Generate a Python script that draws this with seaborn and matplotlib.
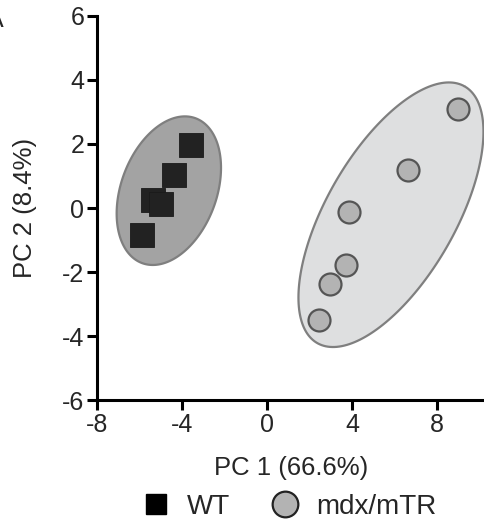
import numpy as np
import pandas as pd
import matplotlib
matplotlib.use("Agg")
import matplotlib.pyplot as plt
from matplotlib.lines import Line2D
import seaborn as sns

# PCA scores
wt_pc1 = [-3.58, -4.38, -5.36, -4.99, -5.88]
wt_pc2 = [1.96, 1.03, 0.25, 0.12, -0.84]
mdx_pc1 = [8.97, 6.61, 3.88, 3.73, 2.98, 2.47]
mdx_pc2 = [3.09, 1.17, -0.13, -1.79, -2.38, -3.49]

# ellipses: centre, major-axis vector, minor-axis vector (data units)
wt_ell_center = [-4.61, 0.54]
wt_ell_major = [1.25, 2.26]
wt_ell_minor = [-2.11, 0.51]
mdx_ell_center = [5.83, -0.21]
mdx_ell_major = [3.47, 4.0]
mdx_ell_minor = [-2.62, 1.01]

x_ticks = [-8, -4, 0, 4, 8]
y_ticks = [-6, -4, -2, 0, 2, 4, 6]

WT_COLOR = "#222222"
MDX_FILL = "#b3b3b3"
MDX_EDGE = "#555555"

sns.set_theme(style="ticks")
plt.rcParams["font.family"] = ["Liberation Sans", "DejaVu Sans"]

df = pd.DataFrame({
    "PC1": wt_pc1 + mdx_pc1,
    "PC2": wt_pc2 + mdx_pc2,
    "group": ["WT"] * len(wt_pc1) + ["mdx/mTR"] * len(mdx_pc1),
})


def ellipse_pts(c, u, v, n=200):
    t = np.linspace(0, 2 * np.pi, n)
    x = c[0] + u[0] * np.cos(t) + v[0] * np.sin(t)
    y = c[1] + u[1] * np.cos(t) + v[1] * np.sin(t)
    return x, y


fig = plt.figure(figsize=(4.85, 5.2), dpi=100)
ax = fig.add_axes([0.1994, 0.230, 0.8006, 0.740])

ex, ey = ellipse_pts(wt_ell_center, wt_ell_major, wt_ell_minor)
ax.fill(ex, ey, facecolor="#a3a3a3", edgecolor="#7f7f7f", lw=1.6, zorder=1)
ex, ey = ellipse_pts(mdx_ell_center, mdx_ell_major, mdx_ell_minor)
ax.fill(ex, ey, facecolor="#dedfe0", edgecolor="#7f7f7f", lw=1.6, zorder=1)

sns.scatterplot(data=df[df.group == "WT"], x="PC1", y="PC2", marker="s", s=310,
                color=WT_COLOR, edgecolor="#1a1a1a", linewidth=0.6, ax=ax,
                legend=False, zorder=3)
sns.scatterplot(data=df[df.group == "mdx/mTR"], x="PC1", y="PC2", marker="o", s=250,
                color=MDX_FILL, edgecolor=MDX_EDGE, linewidth=1.6, ax=ax,
                legend=False, zorder=3)

ax.set_xlim(-8, 10.25)
ax.set_ylim(-6, 6)
ax.set_xticks(x_ticks)
ax.set_yticks(y_ticks)
ax.set_xticklabels([str(v) for v in x_ticks])
ax.set_yticklabels([str(v) for v in y_ticks])
for s in ["top", "right"]:
    ax.spines[s].set_visible(False)
for s in ["left", "bottom"]:
    ax.spines[s].set_linewidth(2.2)
    ax.spines[s].set_color("black")
ax.tick_params(axis="both", width=2.2, length=7.5, color="black", labelsize=18, pad=1.5)
ax.set_xlabel("PC 1 (66.6%)", fontsize=18.5, labelpad=14)
ax.set_ylabel("PC 2 (8.4%)", fontsize=18.5, labelpad=18)
ax.grid(False)
ax.set_facecolor("white")

handles = [
    Line2D([], [], ls="none", marker="s", markersize=14.5, color="black", markeredgecolor="black"),
    Line2D([], [], ls="none", marker="o", markersize=18.5, markerfacecolor=MDX_FILL,
           markeredgecolor="#222222", markeredgewidth=1.6),
]
fig.legend(handles, ["WT", "mdx/mTR"], loc="center", bbox_to_anchor=(0.596, 0.025),
           ncol=2, frameon=False, fontsize=20, handletextpad=0.6, columnspacing=1.5,
           handlelength=1.0)

fig.text(-0.027, 0.985, "A", fontsize=18, va="top", ha="left")

fig.savefig("out.png", dpi=100)
